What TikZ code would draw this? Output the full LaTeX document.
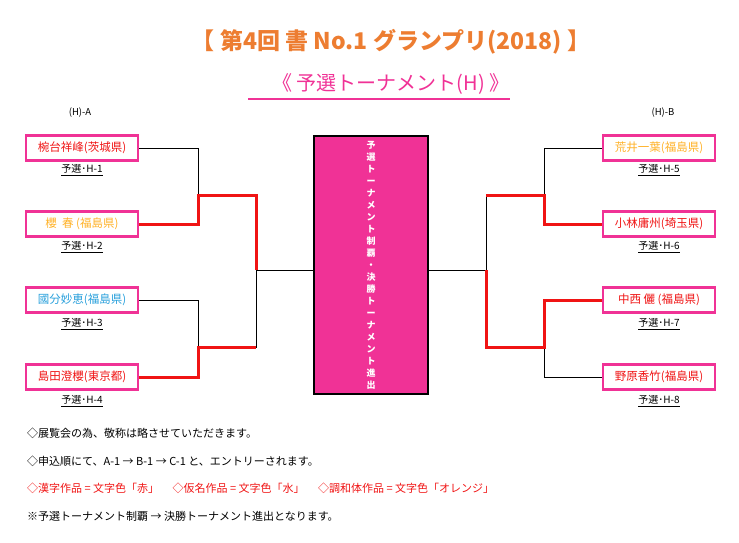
\documentclass[tikz,border=0pt]{standalone}
\usepackage{fontspec}
\setmainfont{Noto Sans CJK JP}
\definecolor{mypink}{RGB}{240,50,150}
\definecolor{myorange}{RGB}{237,125,49}
\definecolor{mygold}{RGB}{255,178,40}
\definecolor{myblue}{RGB}{40,160,220}
\definecolor{myred}{RGB}{240,20,20}
\tikzset{
  entry/.style={draw=mypink, line width=2.5pt, fill=white, minimum width=112pt, minimum height=25pt, inner sep=0, font=\fontsize{11.5}{13}\selectfont},
  seed/.style={font=\fontsize{10}{11}\selectfont, inner sep=1pt},
  lose/.style={black, line width=0.6pt},
  win/.style={myred, line width=3pt},
  note/.style={anchor=west, font=\fontsize{11}{12}\selectfont, inner sep=0}
}
\begin{document}
\begin{tikzpicture}[x=1pt,y=-1pt]
\useasboundingbox (0,0) rectangle (739,543);
\node[text=myorange, font=\fontsize{23}{26}\selectfont\bfseries] (title) at (391,42) {【 第4回 書 No.1 グランプリ(2018) 】};
\node[text=mypink, font=\fontsize{20}{23}\selectfont] (sub) at (391,84) {《 予選トーナメント(H) 》};
\draw[mypink, line width=1.2pt] (248,99) -- (510,99);
\node[font=\fontsize{9.5}{11}\selectfont] (ga) at (80,113) {(H)-A};
\node[font=\fontsize{9.5}{11}\selectfont] (gb) at (663,113) {(H)-B};
% left entries
\node[entry, text=myred] (e1) at (82,148) {椀台祥峰(茨城県)};
\node[entry, text=mygold] (e2) at (82,224) {櫻\ \ 春\ (福島県)};
\node[entry, text=myblue] (e3) at (82,300) {國分妙恵(福島県)};
\node[entry, text=myred] (e4) at (82,377) {島田澄櫻(東京都)};
% right entries
\node[entry, text=mygold] (e5) at (659,148) {荒井一葉(福島県)};
\node[entry, text=myred] (e6) at (659,224) {小林庸州(埼玉県)};
\node[entry, text=myred] (e7) at (659,300) {中西 儷 (福島県)};
\node[entry, text=myred] (e8) at (659,377) {野原香竹(福島県)};
\foreach \i/\x/\y in {1/82/170,2/82/247,3/82/324,4/82/401,5/659/170,6/659/247,7/659/324,8/659/401}
  \node[seed] (s\i) at (\x,\y) {\underline{予選･H-\i}};
% final box
\node[draw=black, line width=2.5pt, fill=mypink, minimum width=114pt, minimum height=258pt, inner sep=0] (fin) at (371,265) {};
\node[text=white, text width=9pt, align=center, font=\fontsize{9}{12}\selectfont\bfseries] (fintext) at (371,265)
  {予\\選\\ト\\ー\\ナ\\メ\\ン\\ト\\制\\覇\\・\\決\\勝\\ト\\ー\\ナ\\メ\\ン\\ト\\進\\出};
% left bracket
\coordinate (la) at (198,195);
\coordinate (lb) at (198,347);
\coordinate (lc) at (256,270);
\draw[lose] (e1.east) -| (la);
\draw[lose] (e3.east) -| (lb);
\draw[lose] (lc) |- (lb);
\draw[lose] (lc) -- (lc -| fin.west);
\draw[win] (e2.east) -| (la) -- (256,195) -- (lc);
\draw[win] (e4.east) -| (lb) -- (256,347);
% right bracket
\coordinate (ra) at (544,195);
\coordinate (rb) at (544,347);
\coordinate (rc) at (486,270);
\draw[lose] (e5.west) -| (ra);
\draw[lose] (e8.west) -| (rb);
\draw[lose] (rc) |- (486,195);
\draw[lose] (rc) -- (rc -| fin.east);
\draw[win] (e6.west) -| (ra) -- (486,195);
\draw[win] (e7.west) -| (rb) -- (486,347) -- (rc);
% notes
\node[note] (n1) at (27,433) {◇展覧会の為、敬称は略させていただきます。};
\node[note] (n2) at (27,461) {◇申込順にて、A-1 → B-1 → C-1 と、エントリーされます。};
\node[note, text=myred] (n3) at (27,488) {◇漢字作品 = 文字色「赤」\quad\ ◇仮名作品 = 文字色「水」\quad\ ◇調和体作品 = 文字色「オレンジ」};
\node[note] (n4) at (27,516) {※予選トーナメント制覇 → 決勝トーナメント進出となります。};
\end{tikzpicture}
\end{document}
